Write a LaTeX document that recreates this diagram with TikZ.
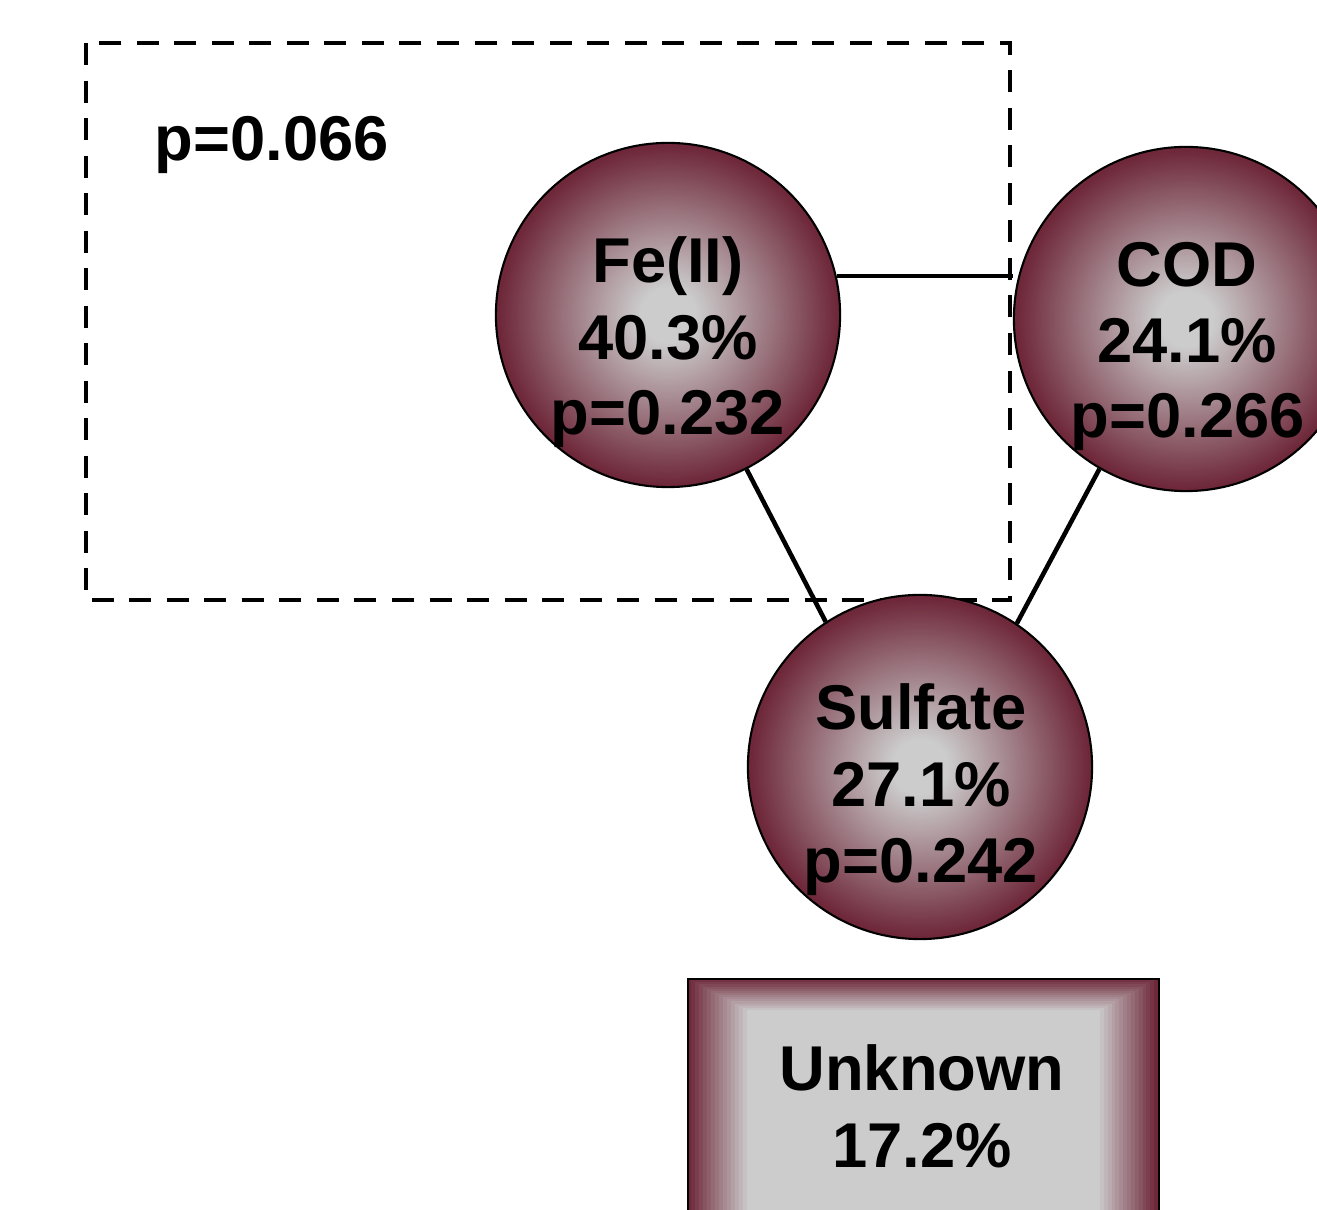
\documentclass[tikz,border=0pt]{standalone}
\usepackage{fontspec}
\setmainfont{Liberation Sans}
\definecolor{maroonc}{RGB}{110,40,58}
\definecolor{grayc}{RGB}{204,204,204}
\pgfdeclareradialshading{ballshade}{\pgfpoint{0bp}{0bp}}{color(0bp)=(grayc); color(4bp)=(grayc); color(24.5bp)=(maroonc); color(25bp)=(maroonc); color(50bp)=(maroonc)}
\tikzset{
  ball/.style={circle, draw=black, line width=0.6pt, shading=ballshade, minimum size=3.44cm, inner sep=0pt},
  lbl/.style={anchor=base, font=\bfseries\fontsize{18}{21.6}\selectfont, inner sep=0pt},
  link/.style={draw=black, line width=1.3pt},
  groupbox/.style={draw=black, line width=1.2pt, dash pattern=on 0.22cm off 0.155cm},
}
\begin{document}
\begin{tikzpicture}[x=0.01cm,y=-0.01cm]
\useasboundingbox (0,0) rectangle (1317,1210);
\begin{scope}
\clip (0,0) rectangle (1317,1210);
% dashed group box
\draw[groupbox] (86,43) rectangle (1010,600);
\node[lbl] (pgrp) at (272,161) {p=0.066};
% circles
\node[ball] (fe) at (668,315) {};
\node[ball] (cod) at (1186,319) {};
\node[ball] (sul) at (920,767) {};
% connectors
\draw[link] (fe.13) -- (fe.13 -| cod.west);
\draw[link] (fe.-63) -- (sul.123.5);
\draw[link] (cod.-120) -- (sul.56);
% labels
\node[lbl] (fe1) at (668,283) {Fe(II)};
\node[lbl] (fe2) at (668,360) {40.3\%};
\node[lbl] (fe3) at (668,435) {p=0.232};
\node[lbl] (cod1) at (1187,287) {COD};
\node[lbl] (cod2) at (1187,363) {24.1\%};
\node[lbl] (cod3) at (1188,438) {p=0.266};
\node[lbl] (sul1) at (921,730) {Sulfate};
\node[lbl] (sul2) at (921,807) {27.1\%};
\node[lbl] (sul3) at (921,883) {p=0.242};
% unknown box with stepped frame gradient
\foreach \i in {0,...,14}{
  \pgfmathsetmacro{\t}{\i/15}
  \pgfmathsetmacro{\pc}{100-100*\t}
  \fill[maroonc!\pc!grayc] (687+60*\t,978+32*\t) rectangle (1158-58*\t,1300);
}
\fill[grayc] (747,1010) rectangle (1100,1300);
\node[draw=black, line width=0.6pt, minimum width=4.71cm, minimum height=3.0cm, anchor=north west, inner sep=0pt] (unk) at (687,978) {};
\node[lbl] (unk1) at (922,1091) {Unknown};
\node[lbl] (unk2) at (922,1168) {17.2\%};
\end{scope}
\end{tikzpicture}
\end{document}
